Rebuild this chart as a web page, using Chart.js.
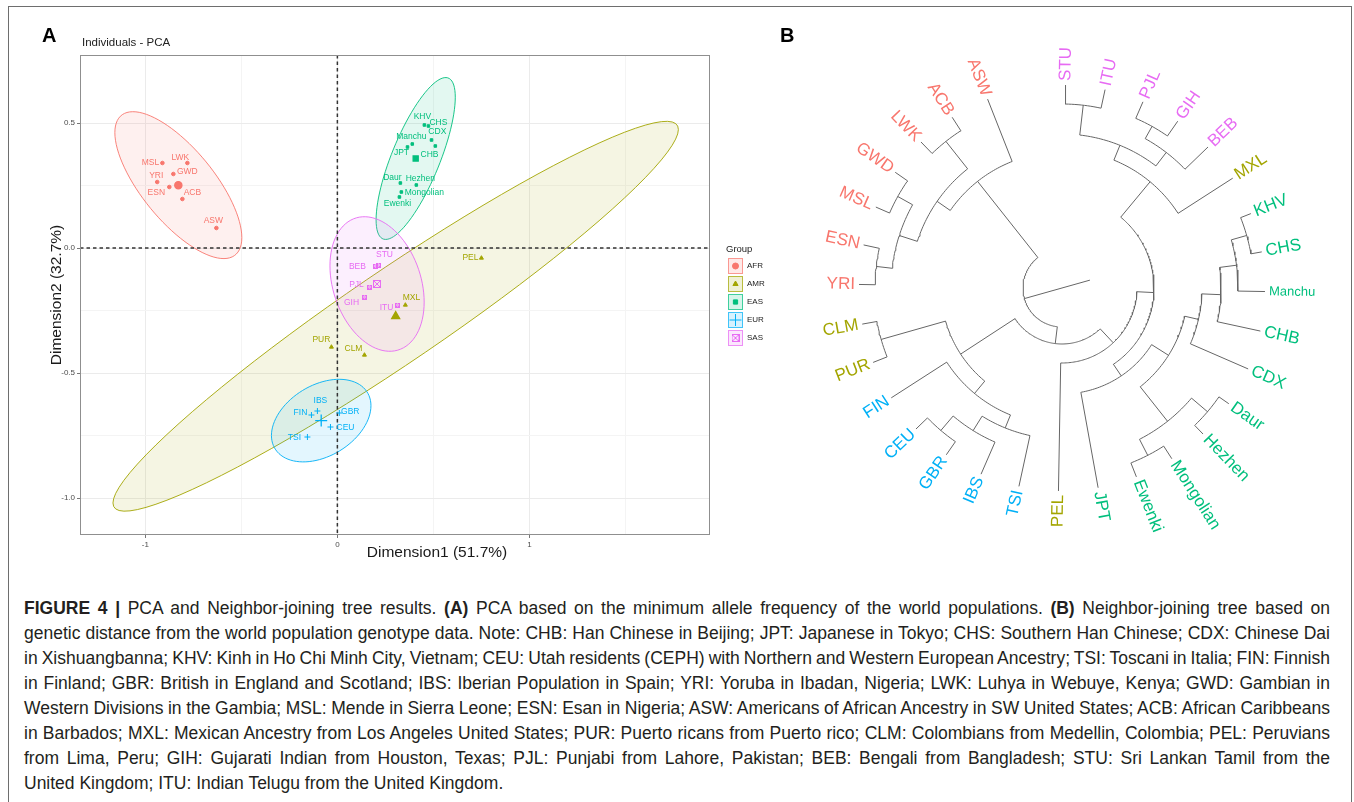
<!DOCTYPE html>
<html lang="en">
<head>
<meta charset="UTF-8">
<title>PCA and Neighbor-joining tree</title>
<script src="https://cdn.jsdelivr.net/npm/chart.js"></script>
<style>
  html, body { margin: 0; padding: 0; background: #fff; }
  body { position: relative; width: 1354px; height: 802px; overflow: hidden; font-family: "Liberation Sans", Arial, sans-serif; }
  #frame { position: absolute; left: 8px; top: 6px; width: 1344px; height: 900px; box-sizing: border-box; border: 1px solid #6e6e6e; }
  #pca { position: absolute; left: 0; top: 0; }
  #tree { position: absolute; left: 770px; top: 0; }
  #caption { position: absolute; left: 24px; top: 596px; width: 1306px; color: #231f20; font-size: 17.5px; }
  #caption div { height: 25px; line-height: 25px; white-space: nowrap; }
</style>
</head>
<body>
<div id="frame"></div>
<canvas id="pca" width="770" height="570"></canvas>
<canvas id="tree" width="584" height="570"></canvas>
<div id="caption">
<div><span><b>FIGURE 4 |</b> PCA and Neighbor-joining tree results. <b>(A)</b> PCA based on the minimum allele frequency of the world populations. <b>(B)</b> Neighbor-joining tree based on</span></div>
<div><span>genetic distance from the world population genotype data. Note: CHB: Han Chinese in Beijing; JPT: Japanese in Tokyo; CHS: Southern Han Chinese; CDX: Chinese Dai</span></div>
<div><span>in Xishuangbanna; KHV: Kinh in Ho Chi Minh City, Vietnam; CEU: Utah residents (CEPH) with Northern and Western European Ancestry; TSI: Toscani in Italia; FIN: Finnish</span></div>
<div><span>in Finland; GBR: British in England and Scotland; IBS: Iberian Population in Spain; YRI: Yoruba in Ibadan, Nigeria; LWK: Luhya in Webuye, Kenya; GWD: Gambian in</span></div>
<div><span>Western Divisions in the Gambia; MSL: Mende in Sierra Leone; ESN: Esan in Nigeria; ASW: Americans of African Ancestry in SW United States; ACB: African Caribbeans</span></div>
<div><span>in Barbados; MXL: Mexican Ancestry from Los Angeles United States; PUR: Puerto ricans from Puerto rico; CLM: Colombians from Medellin, Colombia; PEL: Peruvians</span></div>
<div><span>from Lima, Peru; GIH: Gujarati Indian from Houston, Texas; PJL: Punjabi from Lahore, Pakistan; BEB: Bengali from Bangladesh; STU: Sri Lankan Tamil from the</span></div>
<div><span>United Kingdom; ITU: Indian Telugu from the United Kingdom.</span></div>
</div>
<script>
// ---------- panel A: PCA coordinates ----------
const groups = ['AFR', 'AMR', 'EAS', 'EUR', 'SAS'];

const afrPops = ['MSL', 'LWK', 'GWD', 'YRI', 'ESN', 'ACB', 'ASW'];
const afrDim1 = [-0.911, -0.781, -0.854, -0.938, -0.875, -0.807, -0.630];
const afrDim2 = [0.340, 0.340, 0.296, 0.264, 0.244, 0.196, 0.080];

const amrPops = ['MXL', 'PEL', 'PUR', 'CLM'];
const amrDim1 = [0.354, 0.750, -0.031, 0.141];
const amrDim2 = [-0.228, -0.040, -0.396, -0.428];

const easPops = ['KHV', 'CHS', 'CDX', 'Manchu', 'JPT', 'CHB', 'Daur', 'Hezhen', 'Mongolian', 'Ewenki'];
const easDim1 = [0.453, 0.474, 0.510, 0.390, 0.365, 0.490, 0.328, 0.411, 0.333, 0.323];
const easDim2 = [0.492, 0.488, 0.408, 0.416, 0.404, 0.432, 0.260, 0.252, 0.224, 0.204];

const eurPops = ['IBS', 'FIN', 'GBR', 'CEU', 'TSI'];
const eurDim1 = [-0.104, -0.135, 0.010, -0.036, -0.156];
const eurDim2 = [-0.652, -0.668, -0.660, -0.716, -0.756];

const sasPops = ['STU', 'BEB', 'PJL', 'GIH', 'ITU'];
const sasDim1 = [0.214, 0.198, 0.167, 0.141, 0.313];
const sasDim2 = [-0.068, -0.072, -0.156, -0.196, -0.228];

const xTicks = [-1, 0, 1];
const yTicks = [0.5, 0, -0.5, -1];
const xGrid = [-1, -0.5, 0, 0.5, 1, 1.5];
const yGrid = [0.5, 0.25, 0, -0.25, -0.5, -0.75, -1];
const ellipseLevel = 0.95;

// ---------- panel B: neighbor-joining tree ----------
const treeTips = ['STU', 'ITU', 'PJL', 'GIH', 'BEB', 'MXL', 'KHV', 'CHS', 'Manchu', 'CHB', 'CDX', 'Daur', 'Hezhen',
  'Mongolian', 'Ewenki', 'JPT', 'PEL', 'TSI', 'IBS', 'GBR', 'CEU', 'FIN', 'PUR', 'CLM', 'YRI', 'ESN', 'MSL', 'GWD',
  'LWK', 'ACB', 'ASW'];
const tipGroups = ['SAS', 'SAS', 'SAS', 'SAS', 'SAS', 'AMR', 'EAS', 'EAS', 'EAS', 'EAS', 'EAS', 'EAS', 'EAS',
  'EAS', 'EAS', 'EAS', 'AMR', 'EUR', 'EUR', 'EUR', 'EUR', 'EUR', 'AMR', 'AMR', 'AFR', 'AFR', 'AFR', 'AFR',
  'AFR', 'AFR', 'AFR'];
const tipDepth = 203;
// internal nodes, children listed before parents; depth = distance from the centre
const nodeNames = ['SI', 'PG', 'PGB', 'SASc', 'SM', 'KC', 'KCM', 'KCMB', 'KCMBD', 'DH', 'ME', 'TUNG', 'EASX', 'JN',
  'N91', 'L3', 'CG', 'ICG', 'TICG', 'EURc', 'CP', 'AE', 'L2', 'EY', 'GM', 'WA', 'LA', 'A1', 'AFRc', 'ROOT'];
const nodeChildren = [['STU', 'ITU'], ['PJL', 'GIH'], ['PG', 'BEB'], ['SI', 'PGB'], ['SASc', 'MXL'],
  ['KHV', 'CHS'], ['KC', 'Manchu'], ['KCM', 'CHB'], ['KCMB', 'CDX'], ['Daur', 'Hezhen'], ['Mongolian', 'Ewenki'],
  ['DH', 'ME'], ['KCMBD', 'TUNG'], ['EASX', 'JPT'], ['SM', 'JN'], ['N91', 'PEL'],
  ['GBR', 'CEU'], ['IBS', 'CG'], ['TSI', 'ICG'], ['TICG', 'FIN'], ['PUR', 'CLM'], ['EURc', 'CP'], ['L3', 'AE'],
  ['YRI', 'ESN'], ['MSL', 'GWD'], ['EY', 'GM'], ['LWK', 'ACB'], ['WA', 'LA'], ['A1', 'ASW'], ['L2', 'AFRc']];
const nodeDepth = [184, 185, 171, 154, 138, 192, 176, 159, 140, 191, 188, 170, 126, 106,
  92, 75, 187, 168, 151, 137, 188, 121, 56, 187, 188, 171, 187, 152, 136, 39];
const rootTail = 29;

// ---------- styles ----------
const groupColors = ['#F8766D', '#A3A500', '#00BF7D', '#00B0F6', '#E76BF3'];
const FONT = '"Liberation Sans", Arial, sans-serif';
Chart.defaults.font.family = FONT;

const labelNudge = {
  MSL: [-12, 0], LWK: [-7, -5], GWD: [14, -2], YRI: [-1, -6], ESN: [-13, 6], ACB: [10, -6], ASW: [-3, -7],
  MXL: [6, -7], PEL: [-11, 0], PUR: [-10, -7], CLM: [-11, -6],
  KHV: [-2, -8], CHS: [10, -3], CDX: [2, -14], Manchu: [-1, -7], JPT: [-6, 6], CHB: [-2, 15],
  Daur: [-8, -5], Hezhen: [4, -6], Mongolian: [23, 1], Ewenki: [-2, 7],
  IBS: [3, -10], FIN: [-11, -2], GBR: [11, -1], CEU: [15, 1], TSI: [-13, 1],
  STU: [6, -10], BEB: [-18, 1], PJL: [-13, -2], GIH: [-13, 6], ITU: [-11, 3]
};

function rgba(hex, a) {
  const n = parseInt(hex.slice(1), 16);
  return `rgba(${n >> 16},${(n >> 8) & 255},${n & 255},${a})`;
}
function boxCross(size, color) {
  const c = document.createElement('canvas');
  c.width = c.height = size;
  const g = c.getContext('2d');
  g.strokeStyle = color; g.lineWidth = 1;
  g.strokeRect(0.5, 0.5, size - 1, size - 1);
  g.beginPath(); g.moveTo(0.5, 0.5); g.lineTo(size - 0.5, size - 0.5);
  g.moveTo(size - 0.5, 0.5); g.lineTo(0.5, size - 0.5); g.stroke();
  return c;
}
const mean = a => a.reduce((s, v) => s + v, 0) / a.length;

const smallStyle = ['circle', 'triangle', 'rect', 'cross', boxCross(5, groupColors[4])];
const smallRadius = [1.8, 2.3, 1.8, 3, 2.5];
const bigStyle = ['circle', 'triangle', 'rect', 'cross', boxCross(8, groupColors[4])];
const bigRadius = [3.6, 4.6, 3.6, 6, 4];

const pcaGroups = [
  { name: 'AFR', pops: afrPops, dim1: afrDim1, dim2: afrDim2 },
  { name: 'AMR', pops: amrPops, dim1: amrDim1, dim2: amrDim2 },
  { name: 'EAS', pops: easPops, dim1: easDim1, dim2: easDim2 },
  { name: 'EUR', pops: eurPops, dim1: eurDim1, dim2: eurDim2 },
  { name: 'SAS', pops: sasPops, dim1: sasDim1, dim2: sasDim2 }
];

// normal-theory confidence ellipse (as in stat_ellipse type "norm")
function normEllipse(xs, ys, level) {
  const n = xs.length, mx = mean(xs), my = mean(ys);
  let sxx = 0, syy = 0, sxy = 0;
  for (let i = 0; i < n; i++) {
    const dx = xs[i] - mx, dy = ys[i] - my;
    sxx += dx * dx; syy += dy * dy; sxy += dx * dy;
  }
  sxx /= n - 1; syy /= n - 1; sxy /= n - 1;
  const d = n - 1;
  const f = d / 2 * (Math.pow(1 - level, -2 / d) - 1);   // qf(level, 2, d)
  const rad = Math.sqrt(2 * f);
  const r11 = Math.sqrt(sxx), r12 = sxy / r11, r22 = Math.sqrt(syy - r12 * r12);
  const out = [];
  for (let k = 0; k <= 90; k++) {
    const t = k / 90 * 2 * Math.PI, c = Math.cos(t), s = Math.sin(t);
    out.push([mx + rad * c * r11, my + rad * (c * r12 + s * r22)]);
  }
  return out;
}

const pcaDatasets = [];
pcaGroups.forEach((g, k) => {
  pcaDatasets.push({
    label: g.name,
    data: g.dim1.map((v, i) => ({ x: v, y: g.dim2[i] })),
    pointStyle: smallStyle[k], pointRadius: smallRadius[k],
    backgroundColor: groupColors[k], borderColor: groupColors[k], borderWidth: 1
  });
});
pcaGroups.forEach((g, k) => {
  pcaDatasets.push({
    label: g.name + ' mean',
    data: [{ x: mean(g.dim1), y: mean(g.dim2) }],
    pointStyle: bigStyle[k], pointRadius: bigRadius[k],
    backgroundColor: groupColors[k], borderColor: groupColors[k], borderWidth: 1.3
  });
});

const pcaDecor = {
  id: 'pcaDecor',
  beforeDatasetsDraw(chart) {
    const { ctx, chartArea: a, scales: { x, y } } = chart;
    ctx.save();
    ctx.beginPath(); ctx.rect(a.left, a.top, a.right - a.left, a.bottom - a.top); ctx.clip();
    pcaGroups.forEach((g, k) => {
      const pts = normEllipse(g.dim1, g.dim2, ellipseLevel);
      ctx.beginPath();
      pts.forEach((p, i) => {
        const px = x.getPixelForValue(p[0]), py = y.getPixelForValue(p[1]);
        i ? ctx.lineTo(px, py) : ctx.moveTo(px, py);
      });
      ctx.closePath();
      ctx.fillStyle = rgba(groupColors[k], 0.11); ctx.fill();
      ctx.strokeStyle = groupColors[k]; ctx.lineWidth = 0.9; ctx.stroke();
    });
    const x0 = x.getPixelForValue(0), y0 = y.getPixelForValue(0);
    ctx.setLineDash([3.5, 3]);
    ctx.strokeStyle = '#333'; ctx.lineWidth = 1.5;
    ctx.beginPath();
    ctx.moveTo(x0, a.top); ctx.lineTo(x0, a.bottom);
    ctx.moveTo(a.left, y0); ctx.lineTo(a.right, y0);
    ctx.stroke();
    ctx.restore();
  },
  afterDatasetsDraw(chart) {
    const { ctx, scales: { x, y } } = chart;
    ctx.save();
    ctx.font = '8.5px ' + FONT; ctx.textAlign = 'center'; ctx.textBaseline = 'middle';
    pcaGroups.forEach((g, k) => {
      ctx.fillStyle = groupColors[k];
      g.pops.forEach((p, i) => {
        const nd = labelNudge[p] || [0, -7];
        ctx.fillText(p, x.getPixelForValue(g.dim1[i]) + nd[0], y.getPixelForValue(g.dim2[i]) + nd[1]);
      });
    });
    ctx.restore();
  },
  afterDraw(chart) {
    const { ctx, chartArea: a } = chart;
    ctx.save();
    ctx.strokeStyle = '#8f8f8f'; ctx.lineWidth = 1;
    ctx.strokeRect(a.left + 0.5, a.top + 0.5, a.right - a.left - 1, a.bottom - a.top - 1);

    ctx.fillStyle = '#000'; ctx.font = 'bold 20px ' + FONT; ctx.textAlign = 'left'; ctx.textBaseline = 'alphabetic';
    ctx.fillText('A', 42, 42);
    ctx.fillStyle = '#222'; ctx.font = '11.5px ' + FONT; ctx.textBaseline = 'middle';
    ctx.fillText('Individuals - PCA', 82, 43);

    ctx.font = '15.5px ' + FONT; ctx.textAlign = 'center'; ctx.fillStyle = '#1a1a1a';
    ctx.fillText('Dimension1 (51.7%)', 437, 553);
    ctx.save(); ctx.translate(57, (a.top + a.bottom) / 2); ctx.rotate(-Math.PI / 2);
    ctx.fillText('Dimension2 (32.7%)', 0, 0); ctx.restore();

    // legend
    ctx.textAlign = 'left'; ctx.fillStyle = '#222'; ctx.font = '9.5px ' + FONT;
    ctx.fillText('Group', 726, 249);
    ctx.font = '8px ' + FONT;
    groups.forEach((gName, k) => {
      const cy = 266 + k * 18, bx = 728;
      ctx.fillStyle = rgba(groupColors[k], 0.16);
      ctx.fillRect(bx, cy - 8, 15, 16);
      ctx.strokeStyle = rgba(groupColors[k], 0.7); ctx.lineWidth = 1;
      ctx.strokeRect(bx + 0.5, cy - 7.5, 14, 15);
      ctx.fillStyle = groupColors[k]; ctx.strokeStyle = groupColors[k];
      Chart.helpers.drawPoint(ctx, { pointStyle: bigStyle[k], rotation: 0, radius: k === 3 ? 6 : 3, borderWidth: 1 }, bx + 7.5, cy);
      ctx.fillStyle = '#222';
      ctx.fillText(gName, bx + 19, cy);
    });
    ctx.restore();
  }
};

new Chart(document.getElementById('pca'), {
  type: 'scatter',
  data: { datasets: pcaDatasets },
  options: {
    responsive: false, animation: false, events: [],
    layout: { padding: { left: 50, top: 55, right: 60, bottom: 0 } },
    plugins: { legend: { display: false }, tooltip: { enabled: false } },
    scales: {
      x: {
        type: 'linear', min: -1.34, max: 1.94,
        afterBuildTicks: s => { s.ticks = xGrid.map(v => ({ value: v })); },
        afterFit: s => { s.height = 35; },
        ticks: { autoSkip: false, maxRotation: 0, padding: 2, color: '#4d4d4d', font: { size: 8 },
          callback: v => xTicks.includes(v) ? String(v) : '' },
        grid: { color: c => xTicks.includes(c.tick.value) ? '#ebebeb' : '#f4f4f4', lineWidth: 1,
          tickLength: 3, tickColor: c => xTicks.includes(c.tick.value) ? '#777' : 'rgba(0,0,0,0)' },
        border: { display: false }
      },
      y: {
        type: 'linear', min: -1.148, max: 0.772,
        afterBuildTicks: s => { s.ticks = yGrid.map(v => ({ value: v })); },
        afterFit: s => { s.width = 30; },
        ticks: { autoSkip: false, padding: 2, color: '#4d4d4d', font: { size: 8 },
          callback: v => yTicks.includes(v) ? v.toFixed(1) : '' },
        grid: { color: c => yTicks.includes(c.tick.value) ? '#ebebeb' : '#f4f4f4', lineWidth: 1,
          tickLength: 3, tickColor: c => yTicks.includes(c.tick.value) ? '#777' : 'rgba(0,0,0,0)' },
        border: { display: false }
      }
    }
  },
  plugins: [pcaDecor]
});

// ---------- tree layout (fan) ----------
const tipStart = -89, tipStep = 11.25;   // degrees, screen-clockwise
const angle = {}, depth = {};
treeTips.forEach((t, i) => { angle[t] = tipStart + i * tipStep; depth[t] = tipDepth; });
nodeNames.forEach((n, k) => {
  depth[n] = nodeDepth[k];
  angle[n] = mean(nodeChildren[k].map(c => angle[c]));
});
const polar = (r, a) => ({ x: r * Math.cos(a * Math.PI / 180), y: -r * Math.sin(a * Math.PI / 180) });
const treePts = [];
const brk = () => treePts.push({ x: 0, y: null });
nodeNames.forEach((n, k) => {
  const r = depth[n], as = nodeChildren[k].map(c => angle[c]);
  const a0 = Math.min(...as), a1 = Math.max(...as);
  for (let a = a0; a < a1; a += 1) treePts.push(polar(r, a));
  treePts.push(polar(r, a1)); brk();
  nodeChildren[k].forEach(c => { treePts.push(polar(r, angle[c]), polar(depth[c], angle[c])); brk(); });
});
const rootName = nodeNames[nodeNames.length - 1];
treePts.push(polar(rootTail, angle[rootName] + 180), polar(depth[rootName], angle[rootName]));

const tipFont = { Manchu: 13 };
const treeLabels = {
  id: 'treeLabels',
  afterDatasetsDraw(chart) {
    const { ctx, scales: { x, y } } = chart;
    ctx.save();
    ctx.textBaseline = 'middle';
    treeTips.forEach((t, i) => {
      const a = angle[t], p = polar(tipDepth + 4, a);
      const px = x.getPixelForValue(p.x), py = y.getPixelForValue(p.y);
      ctx.save();
      ctx.translate(px, py);
      ctx.font = (tipFont[t] || 17) + 'px ' + FONT;
      ctx.fillStyle = groupColors[groups.indexOf(tipGroups[i])];
      if (Math.cos(a * Math.PI / 180) >= 0) { ctx.rotate(a * Math.PI / 180); ctx.textAlign = 'left'; }
      else { ctx.rotate((a + 180) * Math.PI / 180); ctx.textAlign = 'right'; }
      ctx.fillText(t, 0, 0);
      ctx.restore();
    });
    ctx.fillStyle = '#000'; ctx.font = 'bold 20px ' + FONT; ctx.textAlign = 'left'; ctx.textBaseline = 'alphabetic';
    ctx.fillText('B', 10, 42);
    ctx.restore();
  }
};

new Chart(document.getElementById('tree'), {
  type: 'scatter',
  data: { datasets: [{ data: treePts, showLine: true, spanGaps: false, pointRadius: 0,
    borderColor: '#666', borderWidth: 1, tension: 0 }] },
  options: {
    responsive: false, animation: false, events: [],
    plugins: { legend: { display: false }, tooltip: { enabled: false } },
    scales: {
      x: { type: 'linear', display: false, min: -292, max: 292 },
      y: { type: 'linear', display: false, min: -282, max: 288 }
    }
  },
  plugins: [treeLabels]
});

// justify caption rows to the same width
document.querySelectorAll('#caption div').forEach((row, i, all) => {
  if (i === all.length - 1) return;
  const span = row.firstElementChild;
  const spaces = (span.textContent.match(/ /g) || []).length;
  const extra = 1306 - span.getBoundingClientRect().width;
  row.style.wordSpacing = (extra / spaces) + 'px';
});
</script>
</body>
</html>
